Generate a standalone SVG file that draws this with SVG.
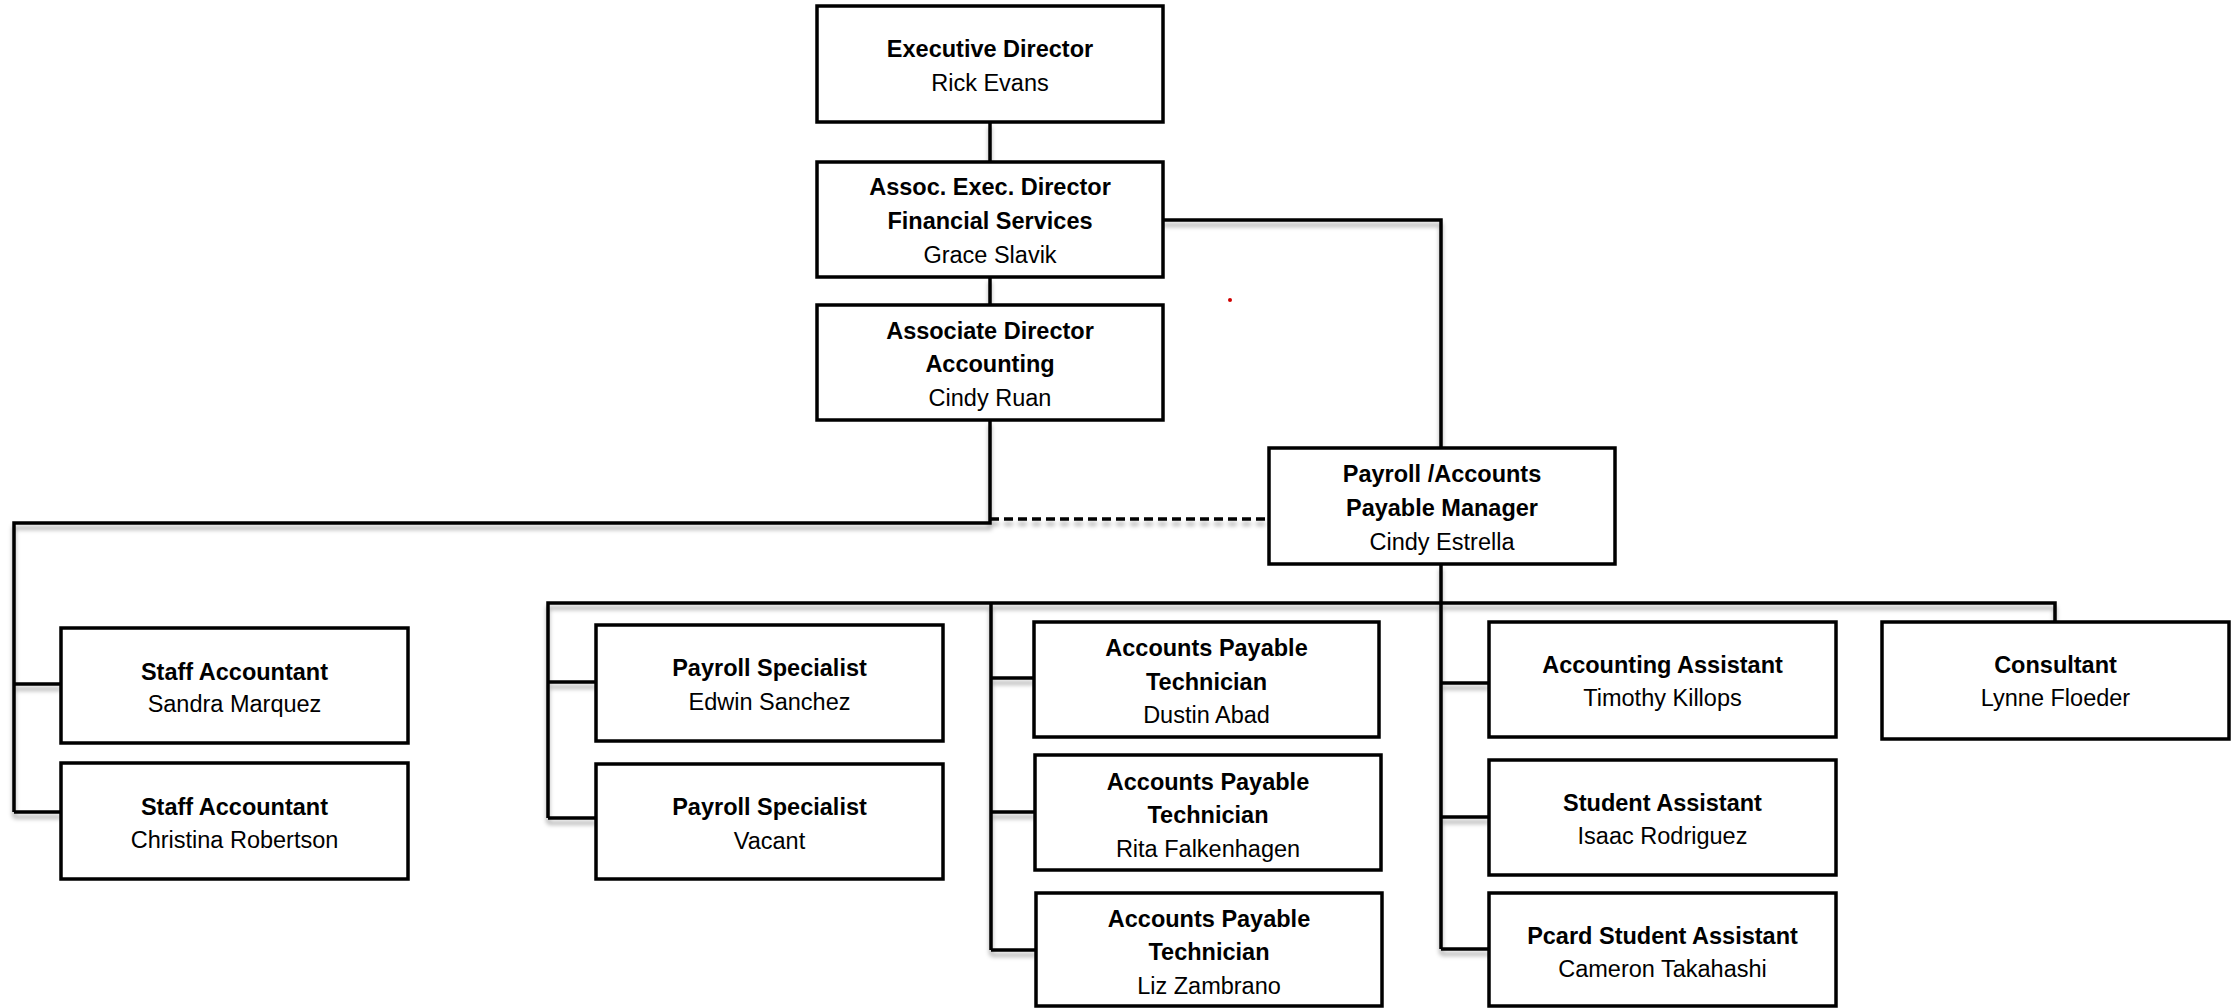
<svg xmlns="http://www.w3.org/2000/svg" width="2237" height="1008" viewBox="0 0 2237 1008">
<style>
.box{fill:#fff;stroke:#000;stroke-width:3.5}
.ln{fill:none;stroke:#000;stroke-width:3.5}
.dash{fill:none;stroke:#000;stroke-width:3.5;stroke-dasharray:9 5}
text{font-family:"Liberation Sans",Arial,sans-serif;text-anchor:middle;fill:#000}
.b{font-weight:bold;font-size:23.5px}
.r{font-size:23.5px}
</style>
<defs>
<filter id="sh" x="-5%" y="-5%" width="110%" height="120%">
<feDropShadow dx="0" dy="5" stdDeviation="2" flood-color="#000" flood-opacity="0.3"/>
</filter>
</defs>
<rect width="2237" height="1008" fill="#fff"/>
<g id="connectors" filter="url(#sh)">
<path class="ln" d="M990,122V162"/>
<path class="ln" d="M990,277V305"/>
<path class="ln" d="M1163,220H1441V448"/>
<path class="ln" d="M990,420V523H14V812"/>
<path class="ln" d="M14,684H61M14,812H61"/>
<path class="dash" d="M990,519H1269"/>
<path class="ln" d="M1441,564V949"/>
<path class="ln" d="M548,818V603H2055V622"/>
<path class="ln" d="M548,682H596M548,818H596"/>
<path class="ln" d="M991,603V950"/>
<path class="ln" d="M991,678H1034M991,812H1035M991,950H1036"/>
<path class="ln" d="M1441,683H1489M1441,817H1489M1441,949H1489"/>
</g>
<g id="exec"><rect class="box" x="817" y="6" width="346" height="116"/>
<text class="b" x="990" y="57">Executive Director</text><text class="r" x="990" y="91">Rick Evans</text></g>
<g id="assocexec"><rect class="box" x="817" y="162" width="346" height="115"/>
<text class="b" x="990" y="195">Assoc. Exec. Director</text><text class="b" x="990" y="229">Financial Services</text><text class="r" x="990" y="263">Grace Slavik</text></g>
<g id="assocdir"><rect class="box" x="817" y="305" width="346" height="115"/>
<text class="b" x="990" y="339">Associate Director</text><text class="b" x="990" y="372">Accounting</text><text class="r" x="990" y="406">Cindy Ruan</text></g>
<g id="payrollmgr"><rect class="box" x="1269" y="448" width="346" height="116"/>
<text class="b" x="1442" y="482">Payroll /Accounts</text><text class="b" x="1442" y="516">Payable Manager</text><text class="r" x="1442" y="550">Cindy Estrella</text></g>
<g id="staff1"><rect class="box" x="61" y="628" width="347" height="115"/>
<text class="b" x="234.5" y="680">Staff Accountant</text><text class="r" x="234.5" y="712">Sandra Marquez</text></g>
<g id="staff2"><rect class="box" x="61" y="763" width="347" height="116"/>
<text class="b" x="234.5" y="815">Staff Accountant</text><text class="r" x="234.5" y="848">Christina Robertson</text></g>
<g id="ps1"><rect class="box" x="596" y="625" width="347" height="116"/>
<text class="b" x="769.5" y="676">Payroll Specialist</text><text class="r" x="769.5" y="710">Edwin Sanchez</text></g>
<g id="ps2"><rect class="box" x="596" y="764" width="347" height="115"/>
<text class="b" x="769.5" y="815">Payroll Specialist</text><text class="r" x="769.5" y="849">Vacant</text></g>
<g id="ap1"><rect class="box" x="1034" y="622" width="345" height="115"/>
<text class="b" x="1206.5" y="656">Accounts Payable</text><text class="b" x="1206.5" y="690">Technician</text><text class="r" x="1206.5" y="723">Dustin Abad</text></g>
<g id="ap2"><rect class="box" x="1035" y="755" width="346" height="115"/>
<text class="b" x="1208" y="790">Accounts Payable</text><text class="b" x="1208" y="823">Technician</text><text class="r" x="1208" y="857">Rita Falkenhagen</text></g>
<g id="ap3"><rect class="box" x="1036" y="893" width="346" height="113"/>
<text class="b" x="1209" y="927">Accounts Payable</text><text class="b" x="1209" y="960">Technician</text><text class="r" x="1209" y="994">Liz Zambrano</text></g>
<g id="acctasst"><rect class="box" x="1489" y="622" width="347" height="115"/>
<text class="b" x="1662.5" y="673">Accounting Assistant</text><text class="r" x="1662.5" y="706">Timothy Killops</text></g>
<g id="studasst"><rect class="box" x="1489" y="760" width="347" height="115"/>
<text class="b" x="1662.5" y="811">Student Assistant</text><text class="r" x="1662.5" y="844">Isaac Rodriguez</text></g>
<g id="pcard"><rect class="box" x="1489" y="893" width="347" height="113"/>
<text class="b" x="1662.5" y="944">Pcard Student Assistant</text><text class="r" x="1662.5" y="977">Cameron Takahashi</text></g>
<g id="consultant"><rect class="box" x="1882" y="622" width="347" height="117"/>
<text class="b" x="2055.5" y="673">Consultant</text><text class="r" x="2055.5" y="706">Lynne Floeder</text></g>
<circle cx="1230" cy="300" r="2" fill="#d00000"/>
</svg>
